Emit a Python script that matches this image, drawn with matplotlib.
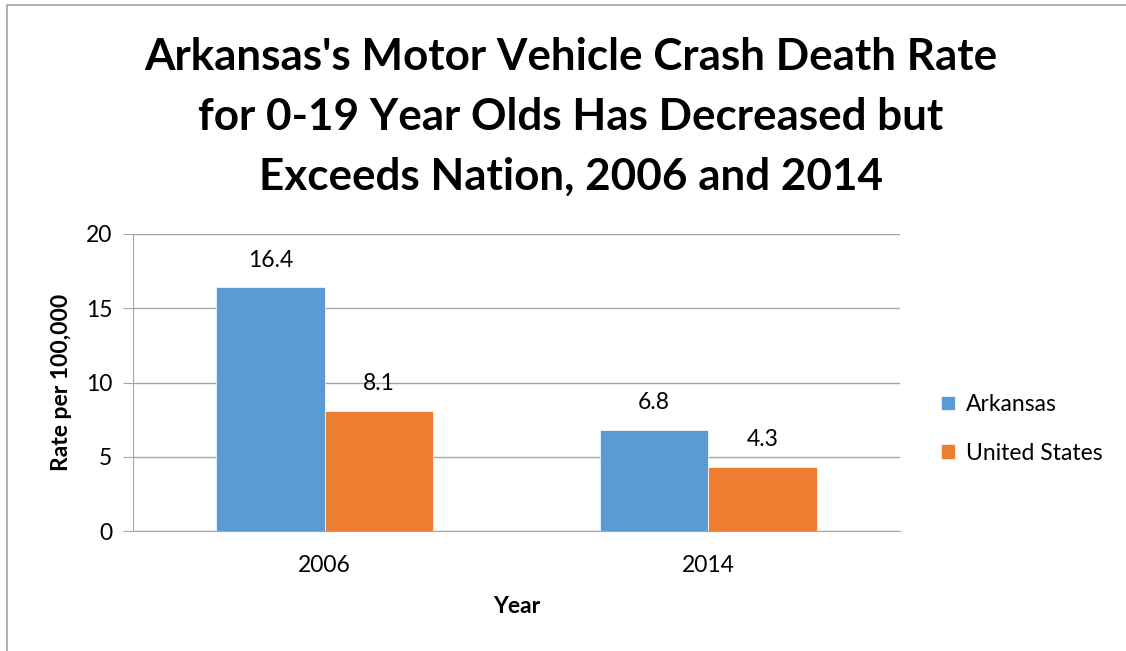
import matplotlib
matplotlib.use("Agg")
import matplotlib.pyplot as plt
from matplotlib.patches import Rectangle
import numpy as np

years = ["2006", "2014"]
series_names = ["Arkansas", "United States"]
arkansas = [16.4, 6.8]
united_states = [8.1, 4.3]
colors = ["#5B9BD5", "#ED7D31"]
title_lines = ["Arkansas's Motor Vehicle Crash Death Rate",
               "for 0-19 Year Olds Has Decreased but",
               "Exceeds Nation, 2006 and 2014"]

plt.rcParams['font.family'] = ['Lato', 'DejaVu Sans']

W, H = 1126, 651
fig = plt.figure(figsize=(W/100, H/100), dpi=100)
fig.patch.set_facecolor("white")

# outer border of chart area
fig.patches.append(Rectangle((7/W, -0.05), 1.2, (H-5)/H + 0.05, transform=fig.transFigure,
                             fill=False, edgecolor="#a6a6a6", linewidth=1.2))

FS = 16.5
ax = fig.add_axes([133/W, (H-531)/H, (900-133)/W, (531-234)/H])
x = np.arange(len(years))
bw = 0.283
vals = [arkansas, united_states]
for i, (name, v) in enumerate(zip(series_names, vals)):
    xs = x + (i - 0.5) * bw
    ax.bar(xs, v, width=bw, color=colors[i], label=name, zorder=3,
           edgecolor="white", linewidth=0.5)
    for xx, vv in zip(xs, v):
        ax.annotate(f"{vv}", (xx, vv), xytext=(0, 12), textcoords="offset points",
                    ha="center", va="bottom", fontsize=FS, color="#000000")

ax.set_xlim(-0.5, 1.5)
ax.set_ylim(0, 20)
ax.set_yticks([0, 5, 10, 15, 20])
ax.set_xticks(x)
ax.set_xticklabels(years)
ax.grid(axis="y", color="#a6a6a6", linewidth=1, zorder=0)
for s in ["top", "right"]:
    ax.spines[s].set_visible(False)
ax.spines["left"].set_color("#a6a6a6")
ax.spines["bottom"].set_color("#a6a6a6")
ax.tick_params(axis="y", length=7, color="#a6a6a6", labelsize=FS, pad=8, direction="out")
ax.tick_params(axis="x", length=0, labelsize=FS, pad=17)
ax.set_ylabel("Rate per 100,000", fontsize=FS, fontweight="bold", labelpad=10)
ax.set_xlabel("Year", fontsize=FS, fontweight="bold", labelpad=15)

leg = ax.legend(loc="center left", frameon=False, fontsize=FS, handlelength=0.6,
                handleheight=0.6, handletextpad=0.5, labelspacing=1.2, borderpad=0,
                borderaxespad=0)
leg.set_bbox_to_anchor((941/W, (H-429)/H), transform=fig.transFigure)

# title
fig.canvas.draw()
r = fig.canvas.get_renderer()
ys = [57, 117, 177]
t0 = fig.text(571/W, 1 - ys[0]/H, title_lines[0], ha="center", va="center",
              fontsize=30, fontweight="bold")
bb = t0.get_window_extent(renderer=r)
fs = 30 * 852 / bb.width
t0.set_fontsize(fs)
for line, yy in zip(title_lines[1:], ys[1:]):
    fig.text(571/W, 1 - yy/H, line, ha="center", va="center", fontsize=fs, fontweight="bold")

fig.savefig("out.png", dpi=100)
